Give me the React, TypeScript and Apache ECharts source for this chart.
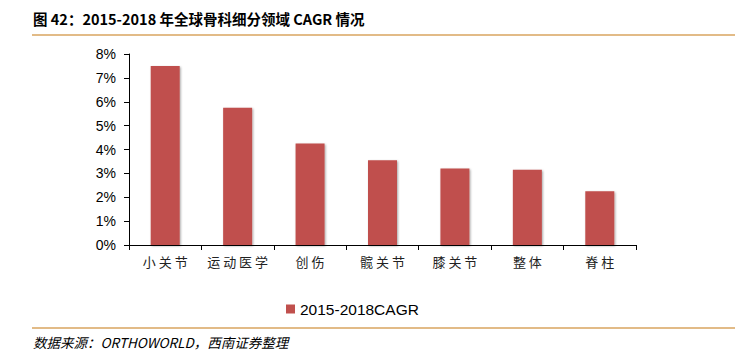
import React, { useEffect, useRef } from "react";
import * as echarts from "echarts";

const categories = ["小关节", "运动医学", "创伤", "髋关节", "膝关节", "整体", "脊柱"];
const cagrValues = [7.5, 5.75, 4.25, 3.55, 3.2, 3.15, 2.25];
const seriesName = "2015-2018CAGR";
const titleText = "图 42：2015-2018 年全球骨科细分领域 CAGR 情况";
const sourceText = "数据来源：ORTHOWORLD，西南证券整理";

export default function App() {
  const ref = useRef<HTMLDivElement>(null);
  useEffect(() => {
    document.body.style.margin = "0";
    const chart = echarts.init(ref.current!, null, { renderer: "svg" });
    chart.setOption({
      animation: false,
      backgroundColor: "#ffffff",
      grid: { left: 129, right: 99, top: 54, bottom: 111 },
      legend: {
        data: [seriesName],
        left: 281,
        top: 296,
        itemWidth: 9,
        itemHeight: 9,
        itemGap: 4,
        icon: "rect",
        textStyle: { fontFamily: "Liberation Sans, Arial", fontSize: 15.5, color: "#000" },
      },
      xAxis: {
        type: "category",
        data: categories,
        axisLine: { lineStyle: { color: "#000", width: 1 } },
        axisTick: { show: true, length: 5, alignWithLabel: false, lineStyle: { color: "#000" } },
        axisLabel: {
          interval: 0,
          fontFamily: "Noto Sans CJK SC",
          fontSize: 13,
          color: "#222",
          margin: 10,
          formatter: (v: string) => v.split("").join(" "),
        },
      },
      yAxis: {
        type: "value",
        min: 0,
        max: 8,
        interval: 1,
        splitLine: { show: false },
        axisLine: { show: true, lineStyle: { color: "#000", width: 1 } },
        axisTick: { show: true, length: 5, lineStyle: { color: "#000" } },
        axisLabel: {
          fontFamily: "Liberation Sans, Arial",
          fontSize: 14,
          color: "#000",
          margin: 13,
          formatter: (v: number) => v + "%",
        },
      },
      series: [
        {
          name: seriesName,
          type: "bar",
          data: cagrValues,
          barWidth: 29,
          itemStyle: {
            color: "#C0504D",
            shadowColor: "rgba(0,0,0,0.35)",
            shadowBlur: 2,
            shadowOffsetX: 1,
            shadowOffsetY: 1,
          },
        },
      ],
      graphic: [
        {
          type: "text",
          left: 33,
          top: 11,
          style: {
            text: titleText,
            fontFamily: "Noto Sans CJK SC",
            fontWeight: "bold",
            fontSize: 14.5,
            fill: "#000",
          },
        },
        {
          type: "line",
          shape: { x1: 32, y1: 35, x2: 735, y2: 35 },
          style: { stroke: "#D9A55F", lineWidth: 1.5 },
        },
        {
          type: "line",
          shape: { x1: 32, y1: 328, x2: 735, y2: 328 },
          style: { stroke: "#D9A55F", lineWidth: 1.5 },
        },
        {
          type: "text",
          left: 33,
          top: 335,
          style: {
            text: sourceText,
            fontFamily: "Noto Sans CJK SC",
            fontStyle: "italic",
            fontSize: 13.5,
            fill: "#000",
          },
        },
      ],
    });
    return () => chart.dispose();
  }, []);
  return <div ref={ref} style={{ width: 735, height: 356 }} />;
}
